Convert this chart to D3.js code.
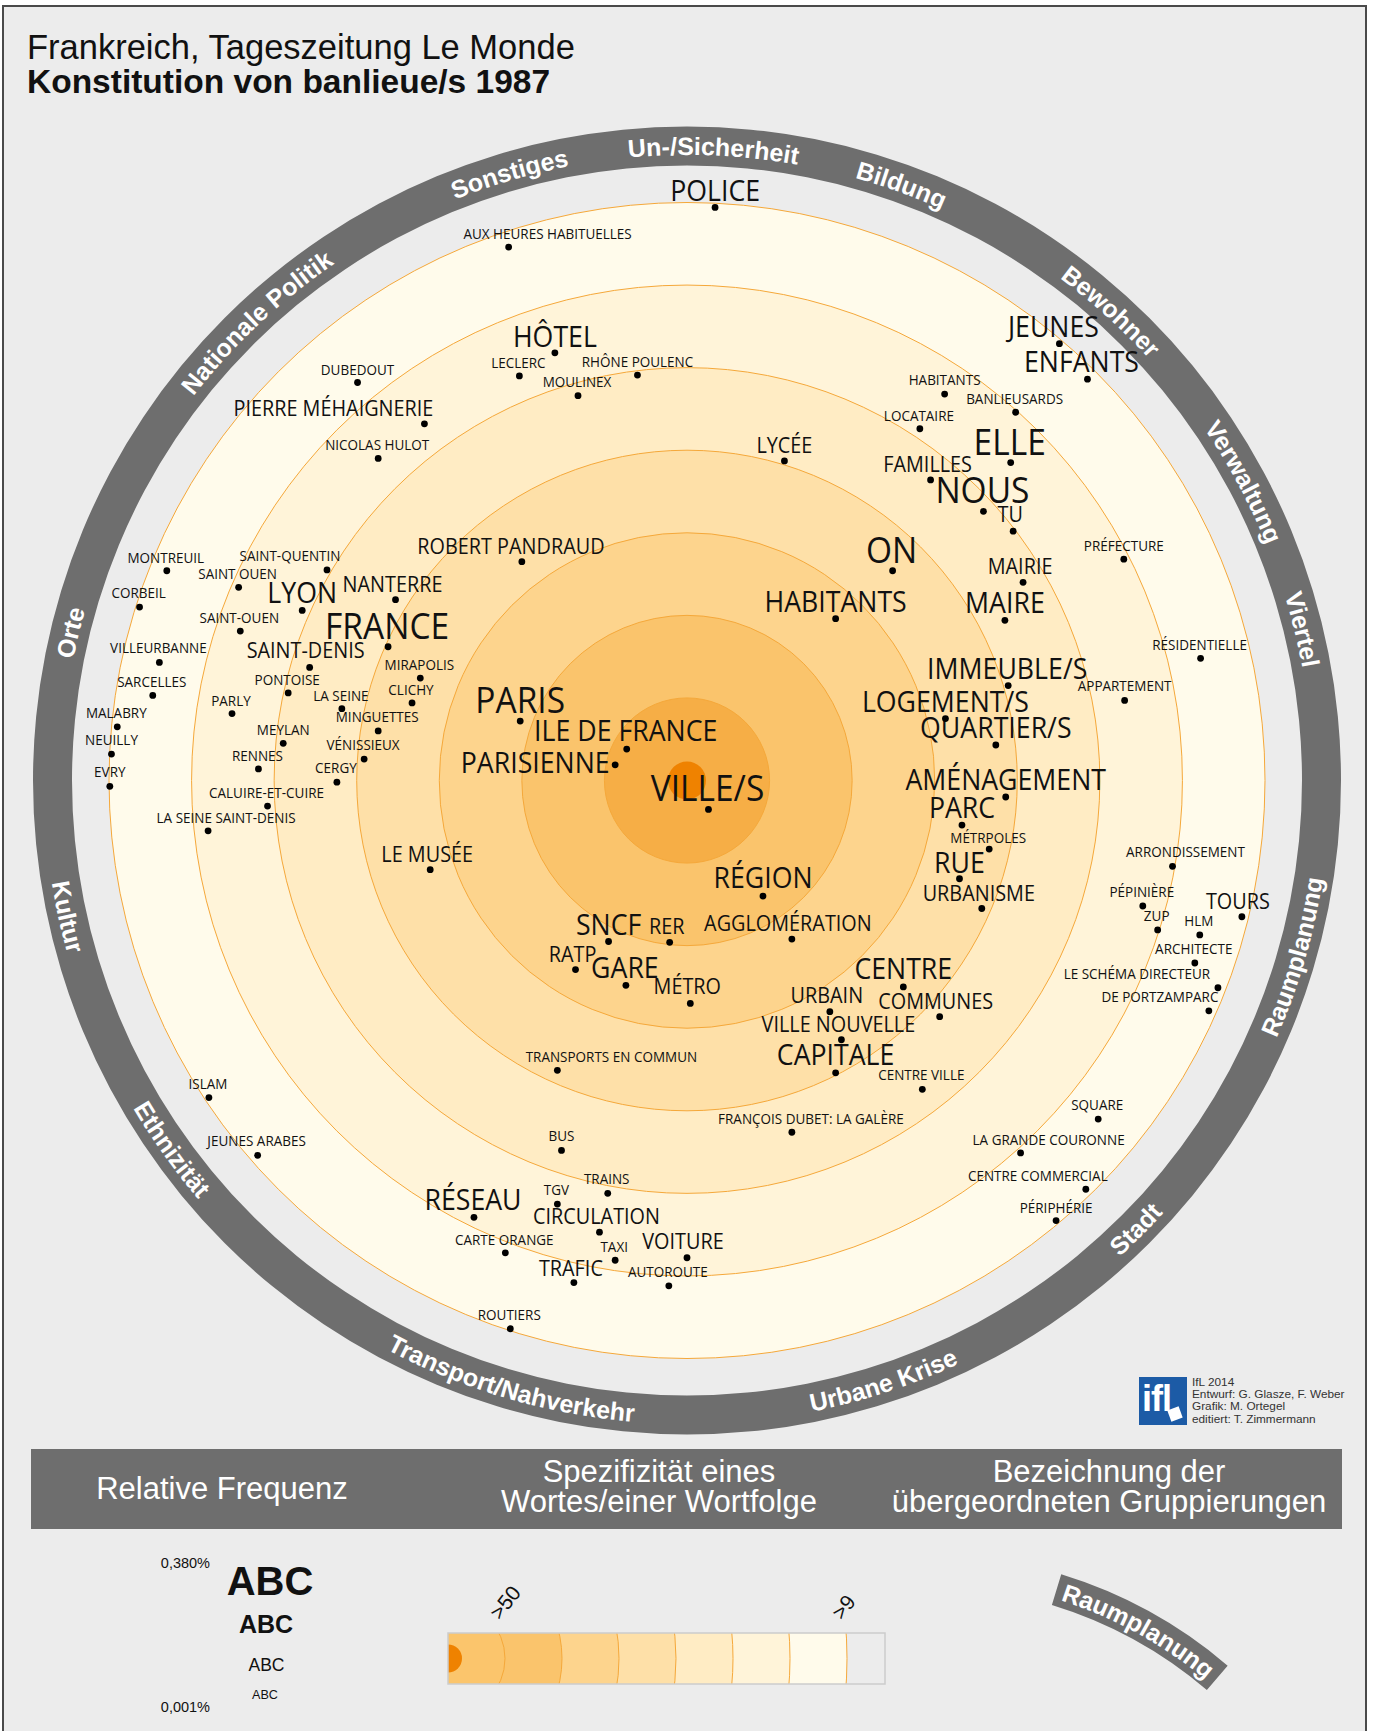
<!DOCTYPE html>
<html>
<head>
<meta charset="utf-8">
<script src="https://cdn.jsdelivr.net/npm/d3@7/dist/d3.min.js"></script>
<style>
html,body{margin:0;padding:0;background:#ffffff;}
svg{display:block;}
</style>
</head>
<body>
<script>
// ---------------- DATA ----------------
const words = ["POLICE","AUX HEURES HABITUELLES","HÔTEL","LECLERC","RHÔNE POULENC","MOULINEX","DUBEDOUT","PIERRE MÉHAIGNERIE","NICOLAS HULOT","JEUNES",
"ENFANTS","HABITANTS","BANLIEUSARDS","LOCATAIRE","LYCÉE","ELLE","FAMILLES","NOUS","TU","ON",
"PRÉFECTURE","MAIRIE","HABITANTS","MAIRE","RÉSIDENTIELLE","IMMEUBLE/S","APPARTEMENT","LOGEMENT/S","QUARTIER/S","AMÉNAGEMENT",
"PARC","MÉTRPOLES","RUE","URBANISME","ARRONDISSEMENT","PÉPINIÈRE","ZUP","HLM","TOURS","ARCHITECTE",
"LE SCHÉMA DIRECTEUR","DE PORTZAMPARC","ROBERT PANDRAUD","MONTREUIL","SAINT-QUENTIN","SAINT OUEN","CORBEIL","LYON","NANTERRE","SAINT-OUEN",
"FRANCE","VILLEURBANNE","SAINT-DENIS","MIRAPOLIS","SARCELLES","PONTOISE","CLICHY","LA SEINE","PARLY","MALABRY",
"MINGUETTES","MEYLAN","NEUILLY","VÉNISSIEUX","RENNES","CERGY","EVRY","CALUIRE-ET-CUIRE","LA SEINE SAINT-DENIS","LE MUSÉE",
"PARIS","ILE DE FRANCE","PARISIENNE","VILLE/S","RÉGION","SNCF","RER","AGGLOMÉRATION","RATP","GARE",
"MÉTRO","CENTRE","URBAIN","COMMUNES","VILLE NOUVELLE","CAPITALE","CENTRE VILLE","TRANSPORTS EN COMMUN","FRANÇOIS DUBET: LA GALÈRE","SQUARE",
"LA GRANDE COURONNE","CENTRE COMMERCIAL","PÉRIPHÉRIE","ISLAM","JEUNES ARABES","BUS","TRAINS","TGV","RÉSEAU","CIRCULATION",
"CARTE ORANGE","TAXI","VOITURE","TRAFIC","AUTOROUTE","ROUTIERS"];

// position in the specificity plane, in ring units (0 = centre, 7 = outer ring)
const ringX = [0.34,-2.16,-1.60,-2.03,-0.60,-1.32,-3.99,-3.18,-3.74,4.51,
4.85,3.12,3.98,2.82,1.18,3.92,2.95,3.59,3.95,2.49,
5.29,4.07,1.80,3.85,6.22,3.89,5.30,3.13,3.74,3.86,
3.33,3.66,3.30,3.57,5.88,5.52,5.70,6.21,6.72,6.15,
6.43,6.32,-2.00,-6.30,-4.36,-5.43,-6.63,-4.66,-3.53,-5.41,
-3.62,-6.39,-4.57,-3.23,-6.47,-4.83,-3.33,-4.18,-5.51,-6.90,
-3.74,-4.89,-6.97,-3.91,-5.19,-4.24,-6.99,-5.08,-5.80,-3.11,
-2.02,-0.73,-0.87,0.26,0.92,-0.95,-0.21,1.27,-1.35,-0.74,
0.04,2.62,1.73,3.06,1.87,1.80,2.85,-1.57,1.27,4.98,
4.04,4.83,4.47,-5.79,-5.20,-1.52,-0.96,-1.57,-2.58,-1.06,
-2.20,-0.87,0.00,-1.37,-0.22,-2.14];
const ringY = [-6.94,-6.46,-5.18,-4.90,-4.91,-4.66,-4.82,-4.32,-3.90,-5.29,
-4.86,-4.68,-4.46,-4.26,-3.87,-3.85,-3.64,-3.26,-3.02,-2.54,
-2.68,-2.40,-1.96,-1.94,-1.48,-1.15,-0.97,-0.75,-0.43,0.20,
0.54,0.83,1.19,1.55,1.04,1.52,1.81,1.87,1.65,2.21,
2.51,2.79,-2.65,-2.54,-2.55,-2.34,-2.10,-2.06,-2.19,-1.81,
-1.62,-1.43,-1.37,-1.24,-1.03,-1.06,-0.94,-0.87,-0.81,-0.65,
-0.60,-0.45,-0.32,-0.26,-0.14,0.02,0.07,0.31,0.61,1.08,
-0.72,-0.38,-0.19,0.35,1.40,1.95,1.96,1.92,2.29,2.48,
2.70,2.50,2.80,2.86,3.14,3.54,3.74,3.51,4.26,4.10,
4.51,4.95,5.33,3.84,4.54,4.48,5.00,5.13,5.29,5.47,
5.72,5.81,5.78,6.08,6.12,6.64];

// relative frequency (%) of each word
const relFreq = [0.11,0.004,0.09,0.005,0.005,0.004,0.004,0.03,0.004,0.10,
0.09,0.006,0.005,0.005,0.03,0.27,0.035,0.26,0.03,0.25,
0.006,0.035,0.12,0.10,0.004,0.11,0.006,0.13,0.12,0.10,
0.08,0.005,0.09,0.04,0.005,0.004,0.006,0.006,0.03,0.005,
0.004,0.004,0.03,0.005,0.005,0.005,0.004,0.08,0.035,0.005,
0.28,0.004,0.04,0.005,0.005,0.005,0.005,0.006,0.004,0.004,
0.005,0.004,0.005,0.006,0.005,0.005,0.005,0.004,0.005,0.03,
0.26,0.12,0.09,0.38,0.11,0.08,0.03,0.04,0.025,0.09,
0.035,0.12,0.04,0.045,0.035,0.10,0.006,0.006,0.004,0.005,
0.005,0.005,0.006,0.005,0.005,0.006,0.006,0.005,0.10,0.04,
0.005,0.005,0.04,0.035,0.005,0.004];

// superordinate groups on the outer band (angle clockwise from top, degrees)
const groups = ["Orte","Nationale Politik","Sonstiges","Un-/Sicherheit","Bildung","Bewohner","Verwaltung","Viertel",
"Raumplanung","Stadt","Urbane Krise","Transport/Nahverkehr","Ethnizität","Kultur"];
const groupAngle = [283.5,316.8,343.7,2.4,19.8,42.1,61.8,76.2,106.2,135.0,161.9,196.3,234.4,257.6];

// legend values
const specTicks = [">50",">9"];
const freqTicks = ["0,380%","0,001%"];
const freqSamples = [0.38,0.12,0.03,0.004];

// ---------------- LAYOUT (label nudges, px) ----------------
const labelShift = [[0,-7],[39,-8],[0,-6],[-1,-8],[0,-8],[-1,-9],[0,-8],[-91,-8],[-1,-9],[-6,-7],
[-6,-7],[0,-9],[-1,-8],[-1,-8],[0,-8],[-1,-8],[-3,-8],[-1,-8],[-3,-9],[-1,-8],
[0,-8],[-3,-8],[0,-7],[0,-7],[-1,-8],[-1,-7],[0,-9],[0,-7],[0,-7],[0,-7],
[0,-7],[-1,-6],[0,-6],[-3,-8],[13,-9],[-1,-9],[-1,-9],[-1,-9],[-4,-8],[-1,-9],
[-81,-9],[-49,-9],[-11,-8],[-1,-8],[-37,-9],[-1,-8],[-1,-9],[0,-7],[-3,-8],[-1,-8],
[-1,-8],[-1,-9],[-4,-9],[-1,-8],[-1,-9],[-1,-8],[-1,-8],[-1,-8],[-1,-8],[-1,-9],
[-1,-9],[0,-8],[0,-9],[-1,-9],[-1,-8],[-1,-9],[0,-9],[-1,-8],[18,-8],[-3,-8],
[0,-8],[-1,-8],[-80,8],[-1,-8],[0,-8],[0,-7],[-3,-8],[-4,-8],[-3,-8],[-1,-7],
[-3,-9],[0,-8],[-3,-9],[-4,-8],[-3,-8],[0,-8],[-1,-9],[54,-8],[19,-8],[-1,-9],
[28,-8],[-48,-8],[0,-8],[-1,-9],[-1,-9],[0,-9],[-1,-9],[-1,-9],[-1,-7],[-3,-8],
[-1,-8],[-1,-8],[-4,-9],[-3,-7],[-1,-9],[-1,-9]];

// ---------------- DRAW ----------------
const W = 1373, H = 1731;
const cx = 687, cy = 780.5, outerR = 578;
const ringColors = ["#f6ae46","#fac46c","#fdd48d","#fee0a8","#ffecc4","#fff4d9","#fffbeb"];
const coreColor = "#ef8200";
const ringStroke = "#f5a83a";
const bandColor = "#6e6e6e";
const SANS = "Liberation Sans, Arial, sans-serif";

const svg = d3.select("body").append("svg").attr("width", W).attr("height", H);

svg.append("rect").attr("x",3).attr("y",6).attr("width",1363).attr("height",1745)
  .attr("fill","#ececec").attr("stroke","#4a4a4a").attr("stroke-width",2);

// title
svg.append("text").attr("x",27).attr("y",59).attr("font-family",SANS)
  .attr("font-size",34.5).attr("fill","#111").text("Frankreich, Tageszeitung Le Monde");
svg.append("text").attr("x",27).attr("y",93).attr("font-family",SANS)
  .attr("font-size",33.5).attr("font-weight","bold").attr("fill","#111").text("Konstitution von banlieue/s 1987");

// scales
const R = d3.scaleLinear().domain([0,7]).range([0,outerR]);
const X = d3.scaleLinear().domain([-7,7]).range([cx-outerR, cx+outerR]);
const Y = d3.scaleLinear().domain([-7,7]).range([cy-outerR, cy+outerR]);
const fontSize = d3.scaleThreshold().domain([0.015,0.06,0.2]).range([15.3,22.5,30.3,38]);

// outer band
const bandInner = 615, bandOuter = 654;
svg.append("path").attr("transform",`translate(${cx},${cy})`)
  .attr("d", d3.arc()({innerRadius:bandInner, outerRadius:bandOuter, startAngle:0, endAngle:2*Math.PI}))
  .attr("fill", bandColor);

// concentric rings
const levels = d3.range(7,0,-1);
svg.append("g").selectAll("circle").data(levels).join("circle")
  .attr("cx",cx).attr("cy",cy).attr("r",d=>R(d))
  .attr("fill",d=>ringColors[d-1]).attr("stroke",ringStroke).attr("stroke-width",1);
svg.append("circle").attr("cx",cx).attr("cy",cy).attr("r",R(0.23)).attr("fill",coreColor);

// group labels on band
const defs = svg.append("defs");
function arcD(ccx, ccy, r, a0, a1, sweep){
  const p = a => [ccx + r*Math.sin(a*Math.PI/180), ccy - r*Math.cos(a*Math.PI/180)];
  const [x0,y0] = p(a0), [x1,y1] = p(a1);
  return `M${x0.toFixed(2)},${y0.toFixed(2)} A${r},${r} 0 0 ${sweep} ${x1.toFixed(2)},${y1.toFixed(2)}`;
}
const bandMid = (bandInner+bandOuter)/2, gFont = 25, capHalf = 0.716*gFont/2;
groups.forEach((name,i)=>{
  const a = groupAngle[i];
  const cw = Math.cos(a*Math.PI/180) > 0;
  const r = cw ? bandMid - capHalf : bandMid + capHalf;
  const d = cw ? arcD(cx,cy,r,a-70,a+70,1) : arcD(cx,cy,r,a+70,a-70,0);
  defs.append("path").attr("id","gp"+i).attr("d",d);
  svg.append("text").attr("font-family",SANS).attr("font-weight","bold")
    .attr("font-size",gFont).attr("fill","#fff")
    .append("textPath").attr("href","#gp"+i).attr("startOffset","50%").attr("text-anchor","middle").text(name);
});

// word labels and dots
const lg = svg.append("g").attr("font-family","Open Sans, Noto Sans, sans-serif").attr("fill","#111");
words.forEach((w,i)=>{
  const x = X(ringX[i]), y = Y(ringY[i]);
  const s = fontSize(relFreq[i]);
  const [dx,dy] = labelShift[i];
  lg.append("text").attr("transform",`translate(${(x+dx).toFixed(1)},${(y+dy).toFixed(1)}) scale(0.934,1)`)
    .attr("text-anchor","middle").attr("font-size",(s*0.944).toFixed(2)).text(w);
});
svg.append("g").selectAll("circle").data(words).join("circle")
  .attr("cx",(d,i)=>X(ringX[i])).attr("cy",(d,i)=>Y(ringY[i])).attr("r",3.4).attr("fill","#000");

// logo & credits
svg.append("rect").attr("x",1139).attr("y",1377).attr("width",48).attr("height",48).attr("fill","#1c5ba6");
svg.append("text").attr("x",1142).attr("y",1411).attr("font-family",SANS)
  .attr("font-weight","bold").attr("font-size",36).attr("fill","#fff").attr("letter-spacing",-1).text("ifl");
svg.append("rect").attr("x",-6).attr("y",-6).attr("width",12).attr("height",12).attr("fill","#fff")
  .attr("transform","translate(1175,1414) rotate(-20)");
const credits = ["IfL 2014","Entwurf: G. Glasze, F. Weber","Grafik: M. Ortegel","editiert: T. Zimmermann"];
svg.append("g").selectAll("text").data(credits).join("text")
  .attr("x",1192).attr("y",(d,i)=>1386+i*12.2).attr("font-family",SANS)
  .attr("font-size",11.8).attr("fill","#333").text(d=>d);

// legend header
svg.append("rect").attr("x",31).attr("y",1449).attr("width",1311).attr("height",80).attr("fill",bandColor);
const hdr = svg.append("g").attr("font-family",SANS).attr("font-size",31)
  .attr("fill","#fff").attr("text-anchor","middle");
hdr.append("text").attr("x",222).attr("y",1499).text("Relative Frequenz");
hdr.append("text").attr("x",659).attr("y",1482).text("Spezifizität eines");
hdr.append("text").attr("x",659).attr("y",1512).text("Wortes/einer Wortfolge");
hdr.append("text").attr("x",1109).attr("y",1482).text("Bezeichnung der");
hdr.append("text").attr("x",1109).attr("y",1512).text("übergeordneten Gruppierungen");

// frequency legend
const lf = svg.append("g").attr("font-family",SANS).attr("fill","#111");
lf.append("text").attr("x",210).attr("y",1568).attr("text-anchor","end").attr("font-size",14.5).text(freqTicks[0]);
lf.append("text").attr("x",210).attr("y",1712).attr("text-anchor","end").attr("font-size",14.5).text(freqTicks[1]);
const abcSize = [40,25,17.5,12.6], abcY = [1595,1633,1671,1699], abcX = [270,266,266.5,265], abcW = ["bold","bold","normal","normal"];
freqSamples.forEach((f,i)=>{
  lf.append("text").attr("x",abcX[i]).attr("y",abcY[i]).attr("text-anchor","middle")
    .attr("font-size",abcSize[i]).attr("font-weight",abcW[i]).text("ABC");
});

// specificity legend
const lx0 = 448, lx1 = 885, ly0 = 1633, ly1 = 1684, lcy = (ly0+ly1)/2;
const LR = d3.scaleLinear().domain([0,7]).range([0,399]);
defs.append("clipPath").attr("id","legclip").append("rect").attr("x",lx0).attr("y",ly0).attr("width",lx1-lx0).attr("height",ly1-ly0);
const ls = svg.append("g").attr("clip-path","url(#legclip)");
ls.append("rect").attr("x",lx0).attr("y",ly0).attr("width",lx1-lx0).attr("height",ly1-ly0).attr("fill","#ececec");
ls.selectAll("circle.lr").data(levels).join("circle").attr("class","lr")
  .attr("cx",lx0).attr("cy",lcy).attr("r",d=>LR(d))
  .attr("fill",d=> d===1 ? "#fbc56c" : ringColors[d-1]).attr("stroke",ringStroke).attr("stroke-width",1);
ls.append("circle").attr("cx",lx0).attr("cy",lcy).attr("r",14).attr("fill",coreColor);
svg.append("rect").attr("x",lx0).attr("y",ly0).attr("width",lx1-lx0).attr("height",ly1-ly0)
  .attr("fill","none").attr("stroke","#cccccc").attr("stroke-width",1.5);
[1,7].forEach((lv,i)=>{
  const bx = lx0 + LR(lv) - 5;
  svg.append("text").attr("transform",`translate(${bx},1621) rotate(-52)`)
    .attr("font-family",SANS).attr("font-size",21).attr("fill","#111")
    .text(specTicks[i]);
});

// group legend band piece
const gcx = 925, gcy = 2020, gR = 450;
svg.append("path").attr("transform",`translate(${gcx},${gcy})`)
  .attr("d", d3.arc()({innerRadius:gR-16, outerRadius:gR+16, startAngle:17*Math.PI/180, endAngle:40.5*Math.PI/180}))
  .attr("fill", bandColor);
defs.append("path").attr("id","legband").attr("d", arcD(gcx,gcy,gR-0.716*25/2,-41.3,98.7,1));
svg.append("text").attr("font-family",SANS).attr("font-weight","bold")
  .attr("font-size",25).attr("fill","#fff")
  .append("textPath").attr("href","#legband").attr("startOffset","50%").attr("text-anchor","middle").text(groups[8]);
</script>
</body>
</html>
